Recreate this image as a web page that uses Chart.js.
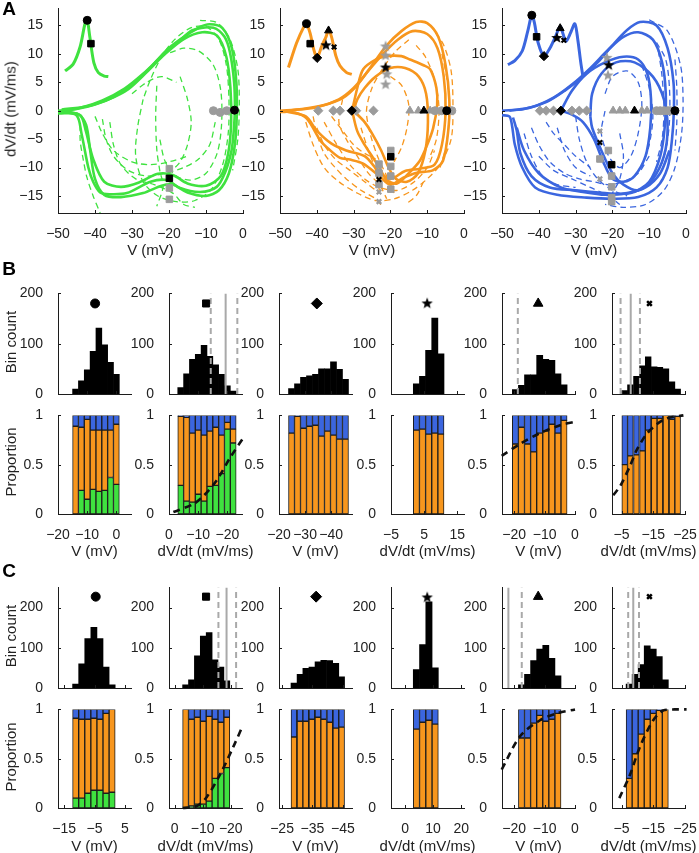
<!DOCTYPE html>
<html>
<head>
<meta charset="utf-8">
<script src="https://cdn.jsdelivr.net/npm/chart.js@4.4.1/dist/chart.umd.min.js"></script>
<style>
  body { margin: 0; background: #fff; }
  #fig { position: relative; width: 699px; height: 853px; overflow: hidden; background: #fff;
         font-family: "Liberation Sans", Arial, sans-serif; color: #222; }
  #fig canvas { position: absolute; }
  .lbl { position: absolute; font-size: 15px; white-space: nowrap; transform: translate(-50%, -50%); }
  .rot { transform: translate(-50%, -50%) rotate(-90deg); }
  .panel { font-size: 19px; font-weight: bold; color: #000; }
</style>
</head>
<body>
<div id="fig"></div>
<script>
// ---------- panel A : phase plots, points are [V (mV), dV/dt (mV/ms)] ----------
const greenThick = [
  [[-50,0],[-45,0.3],[-40,1.1],[-35,2.4],[-30,4.6],[-25,7.6],[-20.6,10.7],[-16,13],[-13.5,14.2],[-8,14.6],[-5,13],[-3.5,10.2],[-2.4,5],[-2.2,0.3],[-2.5,-3.5],[-3.1,-7],[-4.8,-10.8],[-7.1,-13.4],[-11.6,-14.3],[-17,-13.6],[-20.6,-12.2],[-25,-12.5],[-31.4,-14.5],[-36,-14.7],[-38.6,-14.4],[-40.5,-12.5],[-41.8,-10],[-43.6,-4.2],[-45,-0.8],[-50,-0.2]],
  [[-49,0.2],[-42,0.8],[-36,2.1],[-31,3.8],[-26,6.8],[-21,10],[-16,12.6],[-11,13.8],[-7,13.2],[-4.5,9.5],[-3.4,4],[-3.2,-2],[-4,-7.5],[-6,-11.5],[-10,-13.2],[-15,-12.8],[-19,-11.3],[-23,-11.1],[-28,-12.6],[-33,-13.4],[-37.5,-12.5],[-40.5,-8.5],[-42.5,-3.5],[-44,-0.8],[-49,0]],
  [[-50,-0.3],[-44,0.5],[-38,1.8],[-32,3.9],[-27,6.5],[-22,9.6],[-17,12.5],[-12,14.6],[-9,15.2],[-5.5,14.5],[-3,11],[-1.8,5],[-1.7,-1],[-2.2,-6],[-3.8,-11],[-6.5,-14],[-10,-15],[-15,-14.4],[-19,-13],[-22,-13.2],[-27,-14.5],[-33,-15.2],[-37.5,-14.8],[-40,-12],[-41.3,-7],[-42.4,-2.5],[-44.5,-0.6],[-50,-0.5]]
];
const greenDashed = [
  [[-27,2],[-28.5,-3],[-29,-8],[-27,-12.5],[-23,-15],[-18,-16],[-13,-15.8],[-8.5,-13.8],[-5.5,-9.5],[-4,-4],[-3.8,2],[-4.5,8],[-6.5,12.5],[-10,14.8],[-14,14.6],[-18.5,12.5],[-22,9.5],[-25,5.5],[-27,2]],
  [[-23.3,4.4],[-23.6,-1],[-23.3,-6.8],[-22.5,-10.5],[-21.6,-13.4],[-23.3,-16.8]],
  [[-19.7,10.2],[-16,11],[-12,10.5],[-8,8],[-6,3.5],[-5.8,-2.5],[-7,-7.5],[-10,-11],[-14,-12.2],[-18,-11.5],[-21,-9],[-22.5,-5]],
  [[-44,-2.5],[-44,-5.3],[-43.2,-8.5],[-42.2,-11.7],[-40.5,-15],[-38.6,-18]],
  [[-11.6,15.9],[-7,15.5],[-3.5,12.5],[-1.4,7.3],[-1,1],[-1.4,-5],[-2.8,-10.5]],
  [[-38,-1.5],[-37,-5],[-35,-8],[-31,-10.5],[-26,-11.5],[-21,-11],[-16,-10],[-12,-8.5],[-9,-6],[-7.5,-2]],
  [[-36,-2],[-35,-6],[-33,-9.5],[-29,-12],[-24,-13],[-19,-14.5],[-16,-16.5],[-13,-17]],
  [[-17,6],[-15,2],[-14,-2],[-15,-6],[-17,-9],[-20,-11]],
  [[-40,-1],[-38,-4],[-35,-7],[-30,-9],[-25,-9.5],[-20,-9],[-15,-8]],
  [[-30,3],[-26,5],[-22,6],[-18,5]]
];
const greenInset = [[-48.1,7],[-45.9,8.2],[-44,11.3],[-42.7,15.3],[-42.1,15.9],[-41.4,13],[-40.3,8.4],[-39.1,6.7],[-37.5,6.1],[-36.4,6]];

const orangeThick = [
  [[-50,0],[-44,0.3],[-38,1],[-33,2.2],[-29,4.5],[-25,8],[-21,11.5],[-17,14],[-13,15.6],[-10,15.4],[-7,13],[-5,8],[-4,2],[-4.2,-3],[-5.7,-8.8],[-8.5,-10.5],[-12.8,-10.9],[-16.5,-11.8],[-20,-13],[-23,-11.5],[-27.4,-9.3],[-31,-8.6],[-33.7,-8.3],[-37,-6.6],[-39,-5.3],[-42.7,-1.4],[-46,-0.3],[-50,-0.2]],
  [[-48,0],[-40,0.6],[-34,2],[-30,4],[-26,7],[-22,10],[-18,12.5],[-14,14],[-10,13.5],[-7.2,11],[-5.5,6],[-5,0],[-6,-6],[-8,-9.5],[-12,-10.2],[-16,-10.6],[-20,-12],[-23,-10.8],[-27,-8],[-32,-7],[-36,-5.8],[-40,-3.5],[-43,-1],[-48,-0.2]],
  [[-30.4,0],[-29,4],[-27.4,7.3],[-24,9],[-21,9.6],[-17,9.6],[-14.7,9],[-11,8],[-9.2,7.3],[-7.5,4],[-7.3,1],[-8.4,-3.1],[-10,-6],[-12,-8.8],[-15,-11],[-18.2,-12.8],[-21,-12.2],[-23,-10],[-24.7,-8.3],[-27,-6],[-29,-3.6],[-30.4,0]],
  [[-30,0],[-27,-2],[-25,-4],[-22.5,-7],[-20.5,-10],[-18.5,-12],[-15.5,-12.5],[-12.5,-11],[-10.5,-7],[-9.8,-2],[-10.3,3],[-12.3,6],[-16,7.5],[-20,7.5],[-24,6],[-27,4],[-29,2],[-30,0]]
];
const orangeDashed = [
  [[-43,-2],[-41,-6],[-38,-10],[-34,-12.5],[-29,-14.5],[-24,-15.8],[-19,-15.5],[-14,-14],[-10,-12],[-6.5,-9.5],[-3.5,-5],[-3,1],[-3.5,7],[-5.5,11.5],[-8.5,14.5]],
  [[-38,-2],[-35,-5.5],[-31,-9.5],[-27,-12],[-23,-13.5],[-18,-14],[-13.5,-12.5],[-10,-10],[-8,-7]],
  [[-33,2],[-34,-2],[-32,-5],[-29,-8],[-26,-11],[-23,-13],[-21,-15.5]],
  [[-15,12.5],[-18.5,10.5],[-22,7.5],[-25,4],[-26.5,0],[-25.5,-4],[-23.5,-8],[-21,-11.5],[-19,-14.5]],
  [[-13,11.5],[-10.5,9.5],[-8,5.5],[-6.8,0.5],[-7.5,-5],[-9.5,-8.5]],
  [[-41,-1],[-40,-4],[-38,-7.5],[-35,-10],[-32,-12],[-28,-14],[-24,-15.5],[-22,-17]],
  [[-20,6],[-17,4.5],[-15,1],[-15.5,-3],[-17,-6.5],[-19,-9]],
  [[-36,-1],[-33,-3.5],[-30,-6],[-27,-7.5],[-24,-8.5]],
  [[-11,-12.5],[-13,-15],[-16,-16.5]],
  [[-40,-3],[-38,-6],[-35,-8.5],[-31,-10.5],[-27,-12.5],[-23,-14.5]],
  [[-28,-3],[-26,-7],[-24,-10.5],[-23,-14]],
  [[-6,10],[-4.5,5],[-4,0],[-4.8,-6],[-6.5,-10]]
];
const orangeInset = [[-47.7,7.6],[-45.5,11.9],[-43.5,14.8],[-42.8,15.3],[-41.8,13.6],[-40.8,10.7],[-39.9,9.3],[-38.7,11.3],[-37.5,13],[-36.8,14.1],[-36,13],[-34.8,9.6],[-33.7,7.9],[-31.9,6.7],[-30.5,6.4]];

const blueThick = [
  [[-50,0],[-44,0.3],[-38,1.5],[-33,3.5],[-28,6],[-24,8.5],[-20,11.5],[-16,14.2],[-12.5,15.6],[-8,15],[-5,11],[-3.4,5],[-3.3,0],[-3.8,-5],[-5,-10],[-8,-13.5],[-13,-15.2],[-20,-15.5],[-27,-15.3],[-35,-14.8],[-41,-13.5],[-44.5,-10],[-46.5,-6],[-47.3,-2.5],[-48,-1],[-50,-0.8]],
  [[-48,0],[-42,0.6],[-36,2.3],[-31,4.6],[-26,7.5],[-21,10.8],[-17,13],[-13,13.8],[-9,12.5],[-6.5,8.5],[-5.5,3],[-5.8,-3],[-7,-8],[-10,-12.5],[-15,-14.5],[-22,-14.5],[-30,-14],[-37,-13.5],[-42,-11.5],[-45,-7.5],[-46,-3.5],[-47,-1.2]],
  [[-34,0],[-31,3.5],[-27,6.5],[-22,8.5],[-17,9.5],[-13,9],[-10.5,6.5],[-9.5,2],[-9.7,-3],[-11,-8],[-14,-11.5],[-17,-12.5],[-20,-12],[-22.5,-9],[-25,-5],[-28,-2],[-31,-0.7],[-34,0]],
  [[-26,-1],[-25.5,3],[-23,6.5],[-19,8.5],[-14,8.5],[-9,6],[-6,2],[-5,-3],[-6,-8],[-9,-12],[-13,-14],[-17,-13],[-20,-11],[-23,-7],[-25.5,-3],[-26,-1]],
  [[-46,-3],[-44,-7],[-40,-11],[-34,-13.5],[-28,-14.3],[-22,-14.8],[-16,-14.5],[-11,-13.5],[-7,-11],[-4.5,-7]]
];
const blueDashed = [
  [[-10,16],[-5,14],[-1.5,8],[-0.8,2],[-1.2,-4],[-3,-10],[-6,-14],[-11,-16.5],[-17,-17],[-22,-16.5]],
  [[-42,-3],[-40,-6],[-37,-9],[-33,-11],[-29,-12],[-25,-12.5],[-21,-13],[-17,-12.5],[-13,-11],[-10,-8]],
  [[-30,-1],[-29,-5],[-27,-9],[-24,-12],[-20,-14],[-16,-15]],
  [[-22,3],[-20,6],[-16,7],[-13,5],[-12,1],[-13,-4],[-15,-8],[-18,-10],[-21,-8],[-23,-4],[-22,0]],
  [[-8,12],[-5.5,9],[-4.5,4],[-4.5,-2],[-5.5,-7],[-7,-10]],
  [[-38,-2],[-36,-4],[-33,-6],[-30,-8],[-26,-10]],
  [[-7.5,10.5],[-6.5,6],[-6,0],[-6.5,-5],[-8,-9]],
  [[-40,-8],[-36,-10.5],[-31,-12],[-26,-13.5],[-21,-15],[-18,-16.5]],
  [[-44,-4],[-42,-8],[-39,-11.5],[-35,-13],[-30,-13.5]],
  [[-35,-3],[-33,-7],[-30,-10],[-26,-11.5]],
  [[-18,-4],[-17,-8],[-18,-12],[-20,-14.5]],
  [[-12,8],[-10,4],[-9,-1],[-10,-6],[-12,-10]],
  [[-3,9],[-2.5,4],[-2.5,-2],[-3,-7]]
];
const blueInset = [[-48.4,8.1],[-46.5,8.8],[-44.5,10.5],[-43,14],[-41.9,16.8],[-41.2,15.5],[-40.2,12],[-38.6,9.6],[-37,11],[-35.5,13],[-34.2,14.8],[-33.4,13.5],[-32.6,12.2],[-31.3,13.8],[-30.2,15.3],[-29.4,12.5],[-28.6,8.5],[-28,6]];

// markers in panel A (black = example, gray = others)
const gCircle = [[-2.3,0.1],[-42.1,15.9]], gCircleGray = [[-8,0],[-6.2,-0.3],[-4.4,0]];
const gSquare = [[-19.9,-11.9],[-41.1,11.8]], gSquareGray = [[-19.9,-10.2],[-19.9,-13.6],[-19.9,-15.6]];

const oCircle = [[-4.7,0],[-42.8,15.3]], oCircleGray = [[-7.9,0],[-6.1,0],[-3.3,0]];
const oSquare = [[-19.9,-8.1],[-41.8,11.8]], oSquareGray = [[-19.9,-7],[-19.9,-9.8],[-19.9,-11.5],[-19.9,-13.8],[-23.1,-9.4],[-23.1,-11],[-23.1,-13]];
const oDiamond = [[-30.5,0],[-39.9,9.3]], oDiamondGray = [[-39.6,0],[-35.5,0],[-33.7,0],[-29.3,0],[-24.6,0]];
const oTriangle = [[-10.9,0],[-36.8,14.1]], oTriangleGray = [[-14.7,0],[-12.4,0],[-9.2,0]];
const oStar = [[-21.3,7.6],[-37.5,11.5]], oStarGray = [[-21.3,11.3],[-21.3,9.7],[-21,6.4],[-21.3,4.6]];
const oCross = [[-23.1,-12.1],[-35.3,11.2]], oCrossGray = [[-23.1,-10.5],[-23.1,-14.3],[-23.1,-16]];

const bCircle = [[-3,0],[-41.9,16.8]], bCircleGray = [[-8,0],[-7,0],[-6,0],[-5,0],[-4.3,0]];
const bSquare = [[-20.2,-9.5],[-40.6,13]], bSquareGray = [[-21.1,-7],[-23.4,-8.5],[-20.2,-11.5],[-20.2,-13.4],[-20.2,-15.3],[-20.2,-16]];
const bDiamond = [[-34,0],[-38.6,9.6]], bDiamondGray = [[-39.7,0],[-38,0],[-36,0],[-31,0],[-29,0],[-27,0]];
const bTriangle = [[-14,0],[-34.2,14.5]], bTriangleGray = [[-19.8,0],[-18,0],[-16.5,0],[-12,0],[-10.6,0]];
const bStar = [[-21,8],[-35.1,12.8]], bStarGray = [[-21.5,9.3],[-21.2,6.2]];
const bCross = [[-23.4,-5.6],[-33.2,12.4]], bCrossGray = [[-23.4,-3.6],[-23.4,-12]];

const aTicksX = [-50, -40, -30, -20, -10, 0];
const aTicksY = [-15, -10, -5, 0, 5, 10, 15];

// ---------- panels B and C : bin centres, counts, cumulative proportions ----------
const b1X = [-14, -12, -10, -8, -6, -4, -2, 0];
const b1Count = [10, 26, 48, 85, 131, 98, 63, 39];
const b1Green = [0, 0.24, 0.15, 0.25, 0.23, 0.24, 0.37, 0.30];
const b1Orange = [0.89, 0.88, 0.96, 0.85, 0.85, 0.85, 0.85, 0.91];

const b2X = [-4, -6, -8, -10, -12, -14, -16, -18, -20, -22];
const b2Count = [13, 40, 69, 79, 97, 75, 58, 39, 16, 6];
const b2Green = [0.29, 0.13, 0.12, 0.20, 0.13, 0.28, 0.29, 0.41, 0.86, 0.72];
const b2Orange = [0.99, 0.98, 0.82, 0.85, 0.80, 0.84, 0.88, 0.80, 0.93, 0.86];
const b2Fit = [[-1.5,0.02],[-8.3,0.1],[-11.7,0.18],[-16.3,0.34],[-20.9,0.57],[-25.4,0.77]];

const b3X = [-24.8, -27.1, -29.4, -31.7, -34, -36.3, -38.6, -40.9, -43.2, -45.5];
const b3Count = [11, 20, 33, 36, 39, 50, 50, 64, 49, 29];
const b3Orange = [0.82, 0.99, 0.87, 0.89, 0.90, 0.79, 0.84, 0.80, 0.76, 0.76];

const b4X = [2.65, 4.5, 6.35, 8.2, 10.05];
const b4Count = [20, 35, 87, 151, 80];
const b4Orange = [0.85, 0.86, 0.81, 0.82, 0.81];

const b5X = [-19.6, -17.6, -15.6, -13.6, -11.6, -9.6, -7.6, -5.6, -3.6];
const b5Count = [9, 17, 38, 38, 77, 69, 67, 40, 18];
const b5Orange = [0.71, 0.88, 0.71, 0.63, 0.82, 0.84, 0.91, 0.82, 0.95];
const b5Fit = [[-24.1,0.59],[-18.1,0.71],[-11.5,0.82],[-4.9,0.9],[0,0.935]];

const b6X = [-6, -7.8, -9.7, -11.6, -13.4, -15.3, -17.1, -19, -20.9, -22.7];
const b6Count = [7, 18, 35, 56, 74, 54, 53, 50, 24, 10];
const b6Orange = [0.50, 0.59, 0.60, 0.64, 0.85, 0.97, 0.97, 1.0, 0.96, 0.99];
const b6Fit = [[-2.4,0.19],[-4.7,0.29],[-7.7,0.49],[-9.8,0.65],[-12.9,0.81],[-16.1,0.91],[-19.3,0.97],[-24.5,1.0]];

const c1X = [-11.2, -9.2, -7.2, -5.2, -3.2, -1.2, 0.8];
const c1Count = [10, 60, 123, 151, 123, 52, 8];
const c1Green = [0.10, 0.10, 0.15, 0.18, 0.18, 0.15, 0.16];
const c1Orange = [0.91, 0.90, 0.90, 0.91, 0.90, 0.96, 1.0];

const c2X = [-3.9, -6, -8.1, -10.2, -12.3, -14.4, -16.5, -18.6];
const c2Count = [8, 20, 80, 129, 138, 70, 52, 18];
const c2Green = [0, 0.02, 0.04, 0.04, 0.07, 0.30, 0.35, 0.41];
const c2Orange = [1.0, 0.90, 0.92, 0.88, 0.93, 0.90, 0.87, 0.92];
const c2Fit = [[-2.9,0],[-7.9,0.02],[-11.4,0.11],[-16.2,0.34],[-20.9,0.62],[-24.2,0.83]];

const c3X = [-28.9, -30.9, -32.8, -34.8, -36.8, -38.7, -40.7, -42.7, -44.6];
const c3Count = [12, 34, 49, 52, 65, 69, 68, 61, 28];
const c3Orange = [0.72, 0.88, 0.88, 0.90, 0.92, 0.90, 0.87, 0.81, 0.82];

const c4X = [4.05, 6.28, 8.51, 10.74];
const c4Count = [46, 108, 214, 50];
const c4Orange = [0.80, 0.87, 0.89, 0.85];

const c5X = [-17.6, -15.6, -13.6, -11.6, -9.6, -7.6, -5.6];
const c5Count = [8, 34, 68, 97, 106, 74, 30];
const c5Orange = [0.71, 0.71, 0.86, 0.94, 0.88, 0.90, 0.96];
const c5Fit = [[-24.1,0.39],[-18,0.73],[-11.5,0.89],[-6,0.96],[0,1.0]];

const c6X = [-7.4, -9.3, -11.2, -13.1, -15, -16.9, -18.8];
const c6Count = [10, 34, 58, 105, 97, 78, 20];
const c6Orange = [0.30, 0.55, 0.75, 0.90, 0.96, 0.99, 1.0];
const c6Fit = [[-4.3,0.1],[-7.7,0.34],[-10.8,0.62],[-15,0.89],[-18.2,0.99],[-21.8,1.0],[-25.5,1.0]];

// gray reference lines [position, dashed?]
const b2Lines = [[-14.3, true], [-19.4, false], [-23.4, true]];
const b5Lines = [[-18.8, true]];
const b6Lines = [[-4.7, true], [-7.9, false], [-10.8, true]];
const c2Lines = [[-15.6, true], [-18.5, false], [-21.9, true]];
const c5Lines = [[-21.9, false], [-17.5, true]];
const c6Lines = [[-7.1, true], [-8.7, false], [-10.5, true]];

// symbol above each histogram [x, count]
const bSymbolPos = [[-7.3,180],[-12.7,180],[-34.5,180],[5.9,180],[-12.1,180],[-13.8,180]];
const cSymbolPos = [[-4.6,227],[-11.2,227],[-36.2,227],[7.9,225],[-12.1,227],[-13.8,227]];

const bRanges = [[-20,5,false],[-25,0,true],[-48,-20,true],[-5,17,false],[-24,0,false],[-25,-2,true]];
const cRanges = [[-17,7,false],[-24,2,true],[-48,-24,true],[-5,21,false],[-24,0,false],[-25,-2,true]];
const bTicks = [[-20,-10,0],[0,-10,-20],[-20,-30,-40],[-5,5,15],[-20,-10,0],[-5,-15,-25]];
const cTicks = [[-15,-5,5],[0,-10,-20],[-25,-35,-45],[0,10,20],[-20,-10,0],[-5,-15,-25]];
const xTitles = ['V (mV)', 'dV/dt (mV/ms)', 'V (mV)', 'dV/dt (mV/ms)', 'V (mV)', 'dV/dt (mV/ms)'];

// ---------- drawing ----------
const GREEN = '#3fe23f', ORANGE = '#f7961d', BLUE = '#3b66df', GRAY = '#9b9b9b', INK = '#1c1c1c';
const TICK_FONT = { family: '"Liberation Sans", Arial, sans-serif', size: 14 };
const PAD = { l: 46, r: 22, t: 12, b: 30 };
const fig = document.getElementById('fig');
const fmt = v => (v < 0 ? '\u2212' : '') + Math.abs(v);
const xy = pts => pts.map(p => ({ x: p[0], y: p[1] }));

function starImg(color, r) {
  const c = document.createElement('canvas');
  const s = Math.ceil(r * 2 + 2);
  c.width = c.height = s;
  const g = c.getContext('2d');
  g.fillStyle = color;
  g.beginPath();
  for (let i = 0; i < 10; i++) {
    const rad = i % 2 ? r * 0.42 : r;
    const a = -Math.PI / 2 + i * Math.PI / 5;
    const px = s / 2 + rad * Math.cos(a), py = s / 2 + rad * Math.sin(a);
    if (i) g.lineTo(px, py); else g.moveTo(px, py);
  }
  g.closePath();
  g.fill();
  return c;
}
const STAR_K = starImg('#000', 6), STAR_G = starImg(GRAY, 6);

const inwardTicks = {
  id: 'inwardTicks',
  afterDraw(chart) {
    const { ctx, chartArea: a, scales: { x, y } } = chart;
    ctx.save();
    ctx.strokeStyle = INK;
    ctx.lineWidth = 1;
    ctx.beginPath();
    x.ticks.forEach(t => { const p = Math.round(x.getPixelForValue(t.value)) + 0.5; ctx.moveTo(p, a.bottom); ctx.lineTo(p, a.bottom - 3); });
    y.ticks.forEach(t => { const p = Math.round(y.getPixelForValue(t.value)) + 0.5; ctx.moveTo(a.left, p); ctx.lineTo(a.left + 3, p); });
    ctx.stroke();
    ctx.restore();
  }
};

function linScale(min, max, ticks, reverse, isX, showLabels = true) {
  return {
    type: 'linear', min, max, reverse: !!reverse, offset: false, stacked: isX,
    grid: { display: false },
    border: { display: true, color: INK, width: 1 },
    ticks: { display: showLabels, color: '#222', font: TICK_FONT, padding: isX ? 5 : 7, autoSkip: false, maxRotation: 0, minRotation: 0, callback: v => fmt(v) },
    afterBuildTicks: s => { s.ticks = ticks.map(v => ({ value: v })); },
    afterFit: s => { if (isX) s.height = PAD.b; else s.width = PAD.l; }
  };
}

function makeChart(box, type, datasets, xs, ys) {
  const [l, t, r, b] = box;
  const c = document.createElement('canvas');
  const w = r - l + PAD.l + PAD.r, h = b - t + PAD.t + PAD.b;
  c.width = w; c.height = h;
  c.style.cssText = `left:${l - PAD.l}px;top:${t - PAD.t}px;width:${w}px;height:${h}px`;
  fig.appendChild(c);
  return new Chart(c, {
    type, data: { datasets },
    options: {
      responsive: false, animation: false, devicePixelRatio: 1, events: [],
      layout: { padding: { left: 0, right: PAD.r, top: PAD.t, bottom: 0 } },
      plugins: { legend: { display: false }, tooltip: { enabled: false } },
      scales: { x: xs, y: ys }
    },
    plugins: [inwardTicks]
  });
}

function label(text, x, y, cls) {
  const d = document.createElement('div');
  d.className = 'lbl' + (cls ? ' ' + cls : '');
  d.textContent = text;
  d.style.left = x + 'px';
  d.style.top = y + 'px';
  fig.appendChild(d);
}

// panel A
const trajLine = (pts, color, width, dash, order) => ({
  data: xy(pts), showLine: true, borderColor: color, borderWidth: width, borderDash: dash,
  pointRadius: 0, tension: 0.3, order
});
const marks = (pts, style, color, r, order) => ({
  data: xy(pts), showLine: false, pointStyle: style, pointRadius: r,
  pointBackgroundColor: color, pointBorderColor: color,
  pointBorderWidth: style === 'crossRot' ? 2.2 : 1, order
});

function phaseSets(color, thick, dashed, inset, m) {
  const sets = [];
  dashed.forEach(p => sets.push(trajLine(p, color, 1.3, [6, 4], 5)));
  thick.forEach(p => sets.push(trajLine(p, color, 2.6, [], 4)));
  sets.push(trajLine(inset, color, 3, [], 3));
  m.forEach(([pts, style, col, r, ord]) => sets.push(marks(pts, style, col, r, ord)));
  return sets;
}

const aBoxes = [[58, 5, 243, 213], [280, 5, 464, 213], [502, 5, 686, 213]];
const aSets = [
  phaseSets(GREEN, greenThick, greenDashed, greenInset, [
    [gCircleGray, 'circle', GRAY, 4, 1], [gSquareGray, 'rect', GRAY, 4.6, 1],
    [gCircle, 'circle', '#000', 4, 0], [gSquare, 'rect', '#000', 4.6, 0]
  ]),
  phaseSets(ORANGE, orangeThick, orangeDashed, orangeInset, [
    [oCircleGray, 'circle', GRAY, 4, 1], [oSquareGray, 'rect', GRAY, 4.6, 1], [oDiamondGray, 'rectRot', GRAY, 4.6, 1],
    [oTriangleGray, 'triangle', GRAY, 4.6, 1], [oStarGray, STAR_G, GRAY, 5, 1], [oCrossGray, 'crossRot', GRAY, 3.2, 1],
    [oCircle, 'circle', '#000', 4, 0], [oSquare, 'rect', '#000', 4.6, 0], [oDiamond, 'rectRot', '#000', 4.6, 0],
    [oTriangle, 'triangle', '#000', 4.6, 0], [oStar, STAR_K, '#000', 5, 0], [oCross, 'crossRot', '#000', 3.2, 0]
  ]),
  phaseSets(BLUE, blueThick, blueDashed, blueInset, [
    [bCircleGray, 'circle', GRAY, 4, 1], [bSquareGray, 'rect', GRAY, 4.6, 1], [bDiamondGray, 'rectRot', GRAY, 4.6, 1],
    [bTriangleGray, 'triangle', GRAY, 4.6, 1], [bStarGray, STAR_G, GRAY, 5, 1], [bCrossGray, 'crossRot', GRAY, 3.2, 1],
    [bCircle, 'circle', '#000', 4, 0], [bSquare, 'rect', '#000', 4.6, 0], [bDiamond, 'rectRot', '#000', 4.6, 0],
    [bTriangle, 'triangle', '#000', 4.6, 0], [bStar, STAR_K, '#000', 5, 0], [bCross, 'crossRot', '#000', 3.2, 0]
  ])
];
aBoxes.forEach((box, i) => {
  makeChart(box, 'scatter', aSets[i], linScale(-50, 0, aTicksX, false, true), linScale(-18, 18, aTicksY, false, false));
  label('V (mV)', (box[0] + box[2]) / 2, 249);
});
label('dV/dt (mV/ms)', 10, 109, 'rot');

// panels B and C
const histSet = (xv, counts) => ({
  type: 'bar', data: xv.map((x, i) => ({ x, y: counts[i] })), backgroundColor: '#000',
  borderWidth: 0, categoryPercentage: 1, barPercentage: 1, order: 3
});
function propSets(xv, greenTop, orangeTop) {
  const base = { type: 'bar', borderColor: INK, borderWidth: 1, borderSkipped: false, categoryPercentage: 1, barPercentage: 1, order: 3 };
  const sets = [];
  if (greenTop) sets.push({ ...base, backgroundColor: GREEN, data: xv.map((x, i) => ({ x, y: [0, greenTop[i]] })) });
  sets.push({ ...base, backgroundColor: ORANGE, data: xv.map((x, i) => ({ x, y: [greenTop ? greenTop[i] : 0, orangeTop[i]] })) });
  sets.push({ ...base, backgroundColor: BLUE, data: xv.map((x, i) => ({ x, y: [orangeTop[i], 1] })) });
  return sets;
}
const fitSet = pts => ({
  type: 'line', data: xy(pts), borderColor: '#111', borderWidth: 2.6, borderDash: [7, 5],
  pointRadius: 0, tension: 0.3, clip: false, order: 0
});
const vLine = ([v, dashed], top) => ({
  type: 'line', data: [{ x: v, y: 0 }, { x: v, y: top }], borderColor: '#a9a9a9', borderWidth: 2,
  borderDash: dashed ? [6, 4] : [], pointRadius: 0, order: 1
});
const SYMBOLS = [['circle', 4.5], ['rect', 5], ['rectRot', 5.5], [STAR_K, 5], ['triangle', 5.5], ['crossRot', 3.3]];
const symSet = (pos, k) => ({
  type: 'line', data: [{ x: pos[0], y: pos[1] }], showLine: false, pointStyle: SYMBOLS[k][0], pointRadius: SYMBOLS[k][1],
  pointBackgroundColor: '#000', pointBorderColor: '#000', pointBorderWidth: k === 5 ? 2.5 : 1, order: 0
});

const COLS = [[58, 131], [169, 242], [279, 352], [391, 464], [502, 575], [612, 685]];
const rows = [
  {
    hist: [290, 394], prop: [412, 514], hmax: 200, ranges: bRanges, ticks: bTicks, sym: bSymbolPos, titleY: 550,
    cols: [
      [b1X, b1Count, b1Green, b1Orange, null, []],
      [b2X, b2Count, b2Green, b2Orange, b2Fit, b2Lines],
      [b3X, b3Count, null, b3Orange, null, []],
      [b4X, b4Count, null, b4Orange, null, []],
      [b5X, b5Count, null, b5Orange, b5Fit, b5Lines],
      [b6X, b6Count, null, b6Orange, b6Fit, b6Lines]
    ]
  },
  {
    hist: [584, 688], prop: [706, 808], hmax: 250, ranges: cRanges, ticks: cTicks, sym: cSymbolPos, titleY: 845,
    cols: [
      [c1X, c1Count, c1Green, c1Orange, null, []],
      [c2X, c2Count, c2Green, c2Orange, c2Fit, c2Lines],
      [c3X, c3Count, null, c3Orange, null, []],
      [c4X, c4Count, null, c4Orange, null, []],
      [c5X, c5Count, null, c5Orange, c5Fit, c5Lines],
      [c6X, c6Count, null, c6Orange, c6Fit, c6Lines]
    ]
  }
];

rows.forEach(row => {
  row.cols.forEach(([xv, counts, greenTop, orangeTop, fit, lines], k) => {
    const [l, r] = COLS[k];
    const [mn, mx, rev] = row.ranges[k];
    const hSets = [histSet(xv, counts), ...lines.map(v => vLine(v, row.hmax)), symSet(row.sym[k], k)];
    makeChart([l, row.hist[0], r, row.hist[1]], 'bar', hSets,
      linScale(mn, mx, row.ticks[k], rev, true, false), linScale(0, row.hmax, [0, 100, 200], false, false));
    const pSets = propSets(xv, greenTop, orangeTop);
    if (fit) pSets.push(fitSet(fit));
    makeChart([l, row.prop[0], r, row.prop[1]], 'bar', pSets,
      linScale(mn, mx, row.ticks[k], rev, true), linScale(0, 1, [0, 0.5, 1], false, false));
    label(xTitles[k], (l + r) / 2, row.titleY);
  });
});

label('Bin count', 10, 342, 'rot');
label('Proportion', 10, 462, 'rot');
label('Bin count', 10, 636, 'rot');
label('Proportion', 10, 757, 'rot');
label('A', 9, 9, 'panel');
label('B', 9, 269, 'panel');
label('C', 9, 571, 'panel');
</script>
</body>
</html>
